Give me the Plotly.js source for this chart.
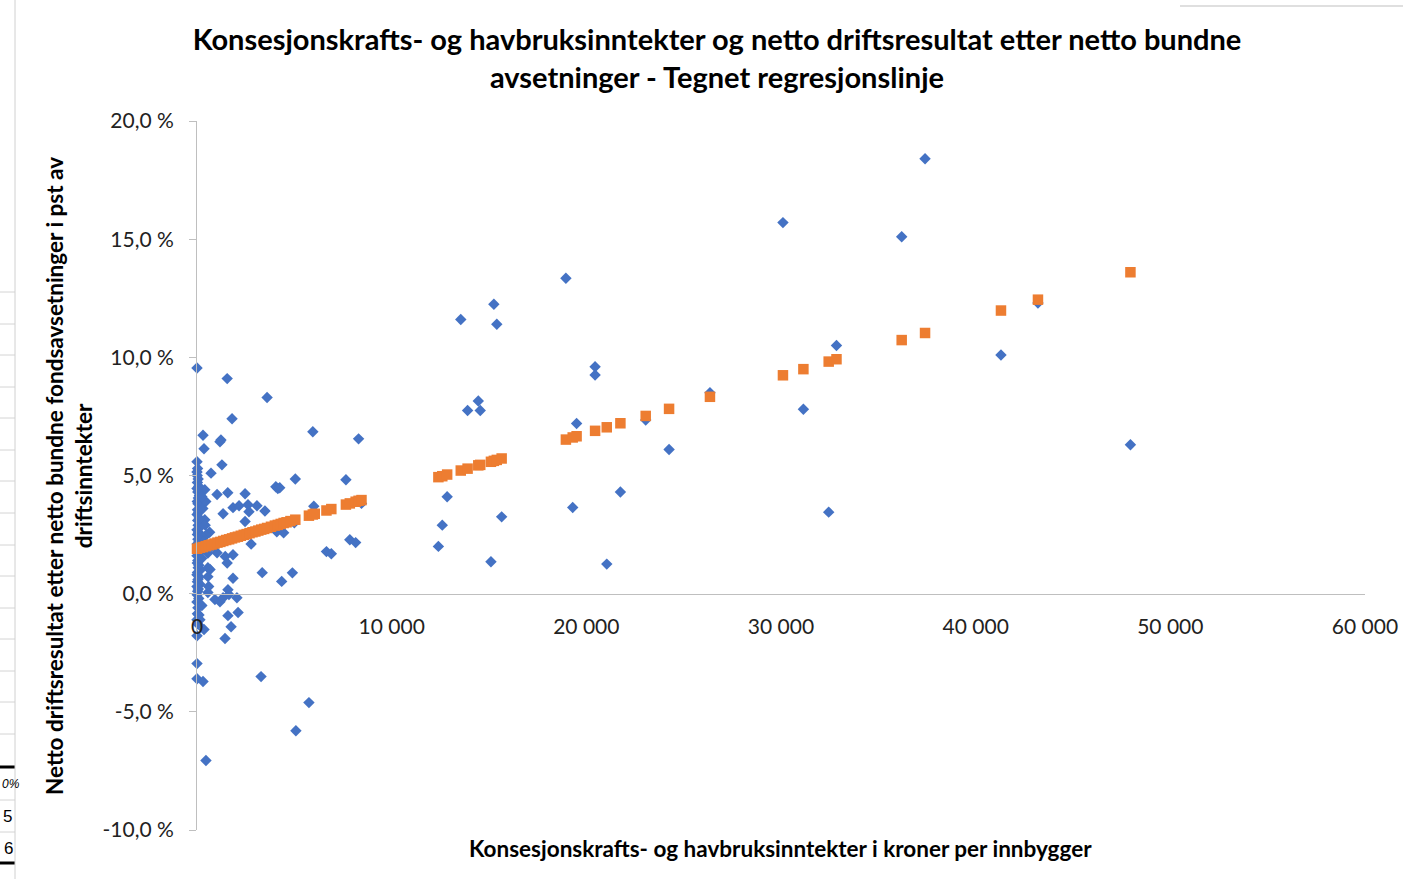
<!DOCTYPE html>
<html>
<head>
<meta charset="utf-8">
<script src="https://cdn.plot.ly/plotly-3.0.1.min.js"></script>
<style>
html,body{margin:0;padding:0;background:#fff;}
#chart{width:1403px;height:879px;}
</style>
</head>
<body>
<div id="chart"></div>
<script>
// ---- Data ----
// Observed municipalities: far-out points
const farX = [37400,30100,36200,18950,15250,13550,15400,32850,20450,20450,41300,43200,31150,24250,47950,32450,26350,14450,13900,14550,19500,23050,12850,21750,12600,15650,12400,19300,15100,21050];
const farY = [18.4,15.7,15.1,13.35,12.25,11.6,11.4,10.5,9.6,9.25,10.1,12.3,7.8,6.1,6.3,3.45,8.5,8.15,7.75,7.75,7.2,7.35,4.1,4.3,2.9,3.25,2.0,3.65,1.35,1.25];
// Observed municipalities: 0 - 9 000 kr
const nearX = [0,1550,3600,1800,310,1230,1180,360,5950,8300,0,1280,720,0,5050,7650,4050,4150,4250,400,1030,1580,2470,1850,2160,2620,3080,3490,2670,1340,6000,8450,2470,4100,4450,5000,7850,8150,6650,6900,4900,3350,4350,670,560,1850,1030,1450,1850,1550,560,560,2780,400,560,920,1180,1340,1590,1640,2050,1590,2110,1750,1440,360,0,0,0,310,3290,5750,5080,460];
const nearY = [9.55,9.1,8.3,7.4,6.7,6.5,6.43,6.13,6.85,6.55,5.58,5.45,5.1,5.15,4.85,4.82,4.52,4.45,4.48,4.4,4.2,4.27,4.23,3.64,3.72,3.76,3.72,3.5,3.47,3.38,3.7,3.82,3.05,2.62,2.58,3.0,2.28,2.16,1.78,1.69,0.88,0.89,0.52,1.02,0.72,0.65,1.73,1.57,1.65,1.3,1.1,1.72,2.1,3.13,0.05,-0.25,-0.34,-0.17,0.17,-0.04,-0.17,-0.93,-0.8,-1.4,-1.9,-1.52,-1.78,-2.96,-3.6,-3.72,-3.51,-4.61,-5.8,-7.06];
// Observed municipalities: dense column near 0 kr
const colX = [30,10,60,20,90,0,40,120,70,15,50,160,25,80,5,110,35,200,55,140,0,75,20,180,45,100,10,65,130,30,85,0,250,40,15,95,60,170,25,0,115,50,20,150,0,70,35,10,90,0,45,20,0,60,420,500,350,650,800,300,450,250,600,250,150,100];
const colY = [5.3,5.0,4.85,4.7,4.55,4.45,4.3,4.15,4.05,3.9,3.8,3.7,3.55,3.45,3.35,3.2,3.1,3.0,2.9,2.8,2.7,2.6,2.5,2.4,2.3,2.2,2.1,2.0,1.9,1.8,1.7,1.6,1.5,1.4,1.3,1.2,1.1,1.0,0.9,0.8,0.7,0.6,0.5,0.4,0.3,0.2,0.1,-0.05,-0.2,-0.35,-0.6,-0.85,-1.1,-1.3,2.9,2.5,2.2,2.6,2.0,3.6,3.9,4.1,0.3,-0.5,-1.1,-0.9];
// Drawn regression points (orange squares)
const fitX = [0,150,300,450,600,750,900,1050,1200,1350,1500,1650,1800,1950,2100,2250,2400,2550,2700,2850,3000,3150,3300,3450,3600,3800,4000,4150,4300,4450,4600,4800,5050,5750,5950,6050,6650,6900,7650,7850,8150,8300,8450,12400,12600,12850,13550,13900,14450,14550,15100,15250,15400,15650,18950,19300,19500,20450,21050,21750,23050,24250,26350,30100,31150,32450,32850,36200,37400,41300,43200,47950];
const fitY = [1.90,1.94,1.97,2.01,2.05,2.08,2.12,2.16,2.19,2.23,2.27,2.30,2.34,2.38,2.41,2.45,2.49,2.52,2.56,2.60,2.63,2.67,2.71,2.74,2.78,2.83,2.88,2.91,2.95,2.99,3.02,3.07,3.13,3.30,3.35,3.38,3.52,3.58,3.77,3.82,3.89,3.93,3.96,4.93,4.97,5.04,5.21,5.29,5.43,5.45,5.58,5.62,5.66,5.72,6.52,6.61,6.66,6.89,7.04,7.21,7.52,7.82,8.33,9.24,9.50,9.82,9.92,10.73,11.03,11.98,12.44,13.60];

// Tick values / labels
const xTickVals = [0,10000,20000,30000,40000,50000,60000];
const xTickText = ['0','10 000','20 000','30 000','40 000','50 000','60 000'];
const yTickVals = [-10,-5,0,5,10,15,20];
const yTickText = ['-10,0 %','-5,0 %','0,0 %','5,0 %','10,0 %','15,0 %','20,0 %'];

const titleText = 'Konsesjonskrafts- og havbruksinntekter og netto driftsresultat etter netto bundne<br>avsetninger - Tegnet regresjonslinje';
const xTitle = 'Konsesjonskrafts- og havbruksinntekter i kroner per innbygger';
const yTitle = 'Netto driftsresultat etter netto bundne fondsavsetninger i pst av<br>driftsinntekter';

// ---- Layout geometry ----
const W = 1403, H = 879, ML = 197, MR = 38, MT = 121, MB = 49;
const PW = W - ML - MR, PH = H - MT - MB;
const px = v => (v - ML) / PW;
const py = v => (MT + PH - v) / PH;

const blue = {
  x: farX.concat(nearX, colX),
  y: farY.concat(nearY, colY),
  type: 'scatter', mode: 'markers', cliponaxis: false,
  marker: {symbol: 'diamond', size: 8.8, color: '#4472C4'},
  hoverinfo: 'x+y'
};
const orange = {
  x: fitX, y: fitY,
  type: 'scatter', mode: 'markers', cliponaxis: false,
  marker: {symbol: 'square', size: 10.5, color: '#ED7D31'},
  hoverinfo: 'x+y'
};

const FONT = 'Lato, "Open Sans", sans-serif';

// spreadsheet artefacts at the left edge
const cellLines = [292,324,355,387,418,450,481,513,545,576,608,639,671,702,734,800,832];
const shapes = [];
cellLines.forEach(yv => shapes.push({type:'line', xref:'paper', yref:'paper', x0:px(0), x1:px(15), y0:py(yv), y1:py(yv), line:{color:'#D4D4D4', width:1}}));
[767, 863].forEach(yv => shapes.push({type:'line', xref:'paper', yref:'paper', x0:px(0), x1:px(15), y0:py(yv), y1:py(yv), line:{color:'#000', width:3}}));
shapes.push({type:'line', xref:'paper', yref:'paper', x0:px(15), x1:px(15), y0:py(0), y1:py(879), line:{color:'#D0D0D0', width:1}});
shapes.push({type:'line', xref:'paper', yref:'paper', x0:px(1180), x1:px(1403), y0:py(6), y1:py(6), line:{color:'#BFBFBF', width:1}});

const annotations = [
  {text: xTitle, xref:'paper', yref:'paper', x: px(780), y: py(848), xanchor:'center', yanchor:'middle', showarrow:false,
   font:{family:FONT, size:22.5, color:'#000', weight:'bold'}},
  {text: yTitle, xref:'paper', yref:'paper', x: px(69), y: py(476), xanchor:'center', yanchor:'middle', showarrow:false, textangle:-90,
   font:{family:FONT, size:22.5, color:'#000', weight:'bold'}},
  {text:'<i>0%</i>', xref:'paper', yref:'paper', x: px(0), y: py(784), xanchor:'left', yanchor:'middle', showarrow:false, font:{family:'Liberation Sans', size:12, color:'#000'}},
  {text:'5', xref:'paper', yref:'paper', x: px(14), y: py(816), xanchor:'right', yanchor:'middle', showarrow:false, font:{family:'Liberation Sans', size:17, color:'#000'}},
  {text:'6', xref:'paper', yref:'paper', x: px(15), y: py(848), xanchor:'right', yanchor:'middle', showarrow:false, font:{family:'Liberation Sans', size:17, color:'#000'}}
];

const layout = {
  width: W, height: H,
  margin: {l: ML, r: MR, t: MT, b: MB, pad: 0},
  paper_bgcolor: '#fff', plot_bgcolor: '#fff',
  showlegend: false,
  title: {text: titleText, x: 717 / W, xref: 'container', xanchor: 'center', y: 1 - 50 / H, yref: 'container', yanchor: 'middle',
          font: {family: FONT, size: 29, color: '#000', weight: 'bold'}},
  xaxis: {range: [0, 60000], tickvals: xTickVals, ticktext: xTickText, showgrid: false, zeroline: false,
          showline: true, linecolor: '#BFBFBF', linewidth: 1, ticks: '', anchor: 'free', position: py(594),
          ticklabelstandoff: 14, tickfont: {family: FONT, size: 21, color: '#222'}},
  yaxis: {range: [-10, 20], tickvals: yTickVals, ticktext: yTickText, showgrid: false, zeroline: false,
          showline: true, linecolor: '#BFBFBF', linewidth: 1, ticks: 'outside', ticklen: 7, tickcolor: '#BFBFBF',
          ticklabelstandoff: 11, tickfont: {family: FONT, size: 21, color: '#222'}},
  shapes: shapes,
  annotations: annotations
};

Plotly.newPlot('chart', [blue, orange], layout, {displayModeBar: false, staticPlot: true});
</script>
</body>
</html>
